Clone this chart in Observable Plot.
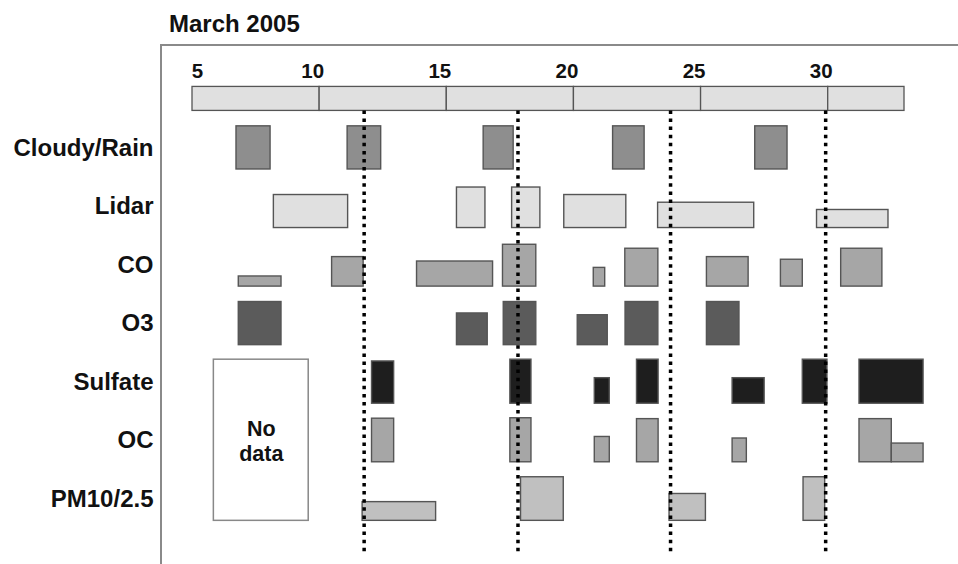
<!DOCTYPE html>
<html><head><meta charset="utf-8">
<script src="https://cdn.jsdelivr.net/npm/d3@7"></script>
<script src="https://cdn.jsdelivr.net/npm/@observablehq/plot@0.6"></script>
<style>
body{margin:0;background:#fff;font-family:"Liberation Sans",Arial,sans-serif;}
#wrap{position:relative;width:958px;height:564px;overflow:hidden;background:#fff;}
#title{position:absolute;left:169px;top:10px;font-weight:bold;font-size:24px;color:#111;line-height:normal;}
#frame{position:absolute;left:160px;top:44px;width:800px;height:530px;border-top:2px solid #8a8a8a;border-left:2px solid #8a8a8a;}
#chart{position:absolute;left:0;top:0;}
</style></head><body>
<div id="wrap"><div id="title">March 2005</div><div id="frame"></div><div id="chart"></div></div>
<script>
// Rows (top to bottom)
const rows = ["Cloudy/Rain", "Lidar", "CO", "O3", "Sulfate", "OC", "PM10/2.5"];
// Day labels and the timeline segments (days of March 2005)
const dayTicks = [5, 10, 15, 20, 25, 30];
const timelineBreaks = [5, 10, 15, 20, 25, 30, 33];
const timelineHeight = 5.45;
// Dotted reference lines (days)
const markerDays = [11.75, 17.8, 23.8, 29.9];
// Each observation: [start day, end day, relative magnitude 0-10]
const cloudyRain = [[6.73, 8.07, 9.8], [11.1, 12.42, 9.8], [16.45, 17.63, 9.8], [21.54, 22.78, 9.8], [27.13, 28.4, 9.8]];
const lidar = [[8.2, 11.12, 7.5], [15.4, 16.52, 9.2], [17.57, 18.68, 9.2], [19.62, 22.06, 7.5], [23.31, 27.09, 5.75], [29.56, 32.37, 4.1]];
const co = [[6.82, 8.5, 2.3], [10.49, 11.73, 6.7], [13.83, 16.82, 5.7], [17.21, 18.52, 9.5], [20.78, 21.23, 4.25], [22.02, 23.32, 8.6], [25.23, 26.87, 6.7], [28.14, 29.0, 6.1], [30.51, 32.13, 8.6]];
const o3 = [[6.82, 8.5, 9.8], [15.4, 16.61, 7.2], [17.24, 18.52, 9.8], [20.15, 21.33, 6.8], [22.03, 23.32, 9.8], [25.23, 26.51, 9.8]];
const sulfate = [[12.06, 12.93, 9.6], [17.5, 18.33, 10], [20.82, 21.41, 5.8], [22.48, 23.33, 10], [26.24, 27.5, 5.8], [29.0, 29.97, 10], [31.23, 33.75, 10]];
const oc = [[12.06, 12.93, 9.9], [17.5, 18.33, 10], [20.82, 21.41, 5.75], [22.48, 23.33, 9.8], [26.24, 26.8, 5.4], [31.23, 32.5, 9.8], [32.5, 33.75, 4.25]];
const pm = [[11.69, 14.58, 4.25], [17.92, 19.6, 9.9], [23.76, 25.19, 6.1], [29.03, 29.88, 9.9]];
// "No data" period spanning Sulfate..PM10/2.5 rows
const noData = [{start: 5.84, end: 9.57, fromRow: "Sulfate", toRow: "PM10/2.5", label: "No\ndata"}];

const series = [
  {row: "Cloudy/Rain", items: cloudyRain, fill: "#8e8e8e"},
  {row: "Lidar", items: lidar, fill: "#e0e0e0"},
  {row: "CO", items: co, fill: "#a6a6a6"},
  {row: "O3", items: o3, fill: "#5b5b5b"},
  {row: "Sulfate", items: sulfate, fill: "#1e1e1e"},
  {row: "OC", items: oc, fill: "#a6a6a6"},
  {row: "PM10/2.5", items: pm, fill: "#c0c0c0"}
];

const ROW_UNITS = 13.3; // magnitude units per row spacing
const rowIndex = r => rows.indexOf(r);

const boxes = series.flatMap(s => s.items.map(([a, b, h]) => ({
  row: s.row, x1: a, x2: b, y1: rowIndex(s.row), y2: rowIndex(s.row) - h / ROW_UNITS, fill: s.fill
})));
const timeline = d3.pairs(timelineBreaks).map(([a, b]) => ({x1: a, x2: b, y1: -1, y2: -1 - timelineHeight / ROW_UNITS}));
const noDataBoxes = noData.map(d => ({
  x1: d.start, x2: d.end, y1: rowIndex(d.toRow), y2: rowIndex(d.fromRow) - 10 / ROW_UNITS, label: d.label
}));
const yDomain = [-1.417, 6.609];

const chart = Plot.plot({
  width: 958, height: 564,
  marginLeft: 192, marginRight: 54, marginTop: 86, marginBottom: 8,
  x: {domain: [5, 33], axis: null},
  y: {domain: yDomain, reverse: true, axis: null},
  style: {fontFamily: "'Liberation Sans', Arial, sans-serif", background: "transparent", color: "#111"},
  marks: [
    Plot.rect(timeline, {x1: "x1", x2: "x2", y1: "y1", y2: "y2", fill: "#e0e0e0", stroke: "#555", strokeWidth: 1.3}),
    Plot.rect(noDataBoxes, {x1: "x1", x2: "x2", y1: "y1", y2: "y2", fill: "white", stroke: "#888", strokeWidth: 1.5}),
    Plot.text(noDataBoxes, {x: d => (d.x1 + d.x2) / 2, y: d => (d.y1 + d.y2) / 2, text: "label", fontSize: 21.5, fontWeight: "bold", lineHeight: 1.17, fill: "#111"}),
    Plot.rect(boxes, {x1: "x1", x2: "x2", y1: "y1", y2: "y2", fill: "fill", stroke: "#555", strokeWidth: 1.4}),
    Plot.ruleX(markerDays, {x: d => d, y1: -1, y2: yDomain[1], stroke: "black", strokeWidth: 3.5, strokeDasharray: "3.5,4.6"}),
    Plot.text(rows, {y: (d, i) => i, frameAnchor: "left", dx: -39, dy: -21.5, text: d => d, textAnchor: "end", fontSize: 24, fontWeight: "bold", fill: "#111"}),
    Plot.text(dayTicks.slice(0, 1), {x: d => d, frameAnchor: "top", dx: 5, dy: -23, text: d => String(d), fontSize: 20.5, fontWeight: "bold", fill: "#111"}),
    Plot.text(dayTicks.slice(1), {x: d => d, frameAnchor: "top", dx: -7, dy: -23, text: d => String(d), fontSize: 20.5, fontWeight: "bold", fill: "#111"})
  ]
});
document.getElementById("chart").appendChild(chart);
</script>
</body></html>
